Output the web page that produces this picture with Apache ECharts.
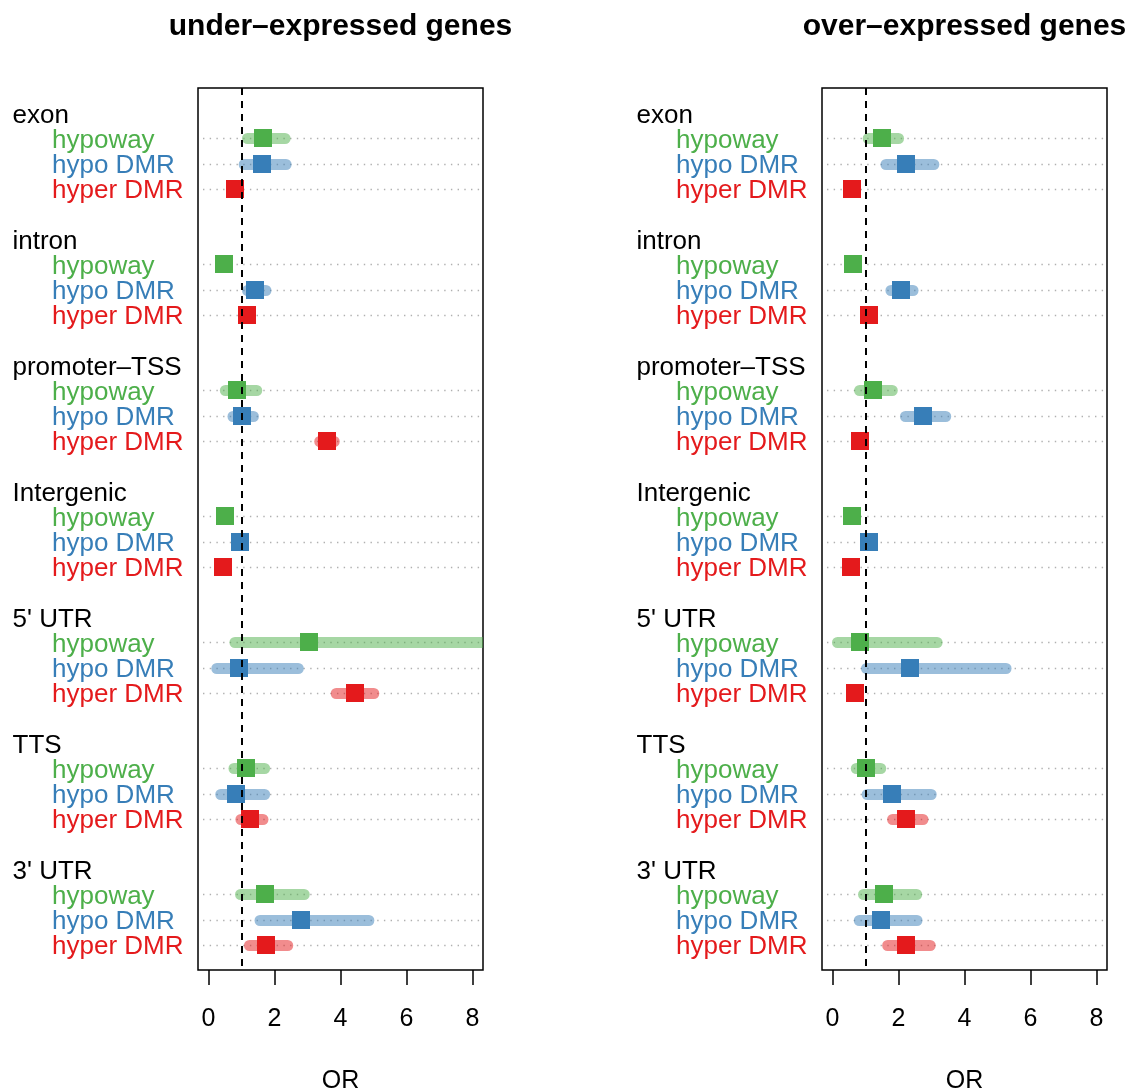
<!DOCTYPE html>
<html>
<head>
<meta charset="utf-8">
<script src="https://cdn.jsdelivr.net/npm/echarts@6/dist/echarts.min.js"></script>
<style>
  html, body { margin: 0; padding: 0; background: #fff; }
  #chart { width: 1132px; height: 1092px; }
</style>
</head>
<body>
<div id="chart"></div>
<script>
// Genomic regions (top to bottom) and the three methylation sources in each
const regions = ['exon', 'intron', 'promoter\u2013TSS', 'Intergenic', "5' UTR", 'TTS', "3' UTR"];
const sources = ['hypoway', 'hypo DMR', 'hyper DMR'];
const panelTitles = ['under\u2013expressed genes', 'over\u2013expressed genes'];
const xTicks = [0, 2, 4, 6, 8];
const refOR = 1;

// Under-expressed genes: odds ratio with lower / upper CI (rows: region, cols: source)
const underOR = [
  [1.66, 1.63, 0.81],
  [0.48, 1.42, 1.18],
  [0.87, 1.02, 3.58],
  [0.51, 0.96, 0.45],
  [3.03, 0.93, 4.43],
  [1.15, 0.84, 1.27],
  [1.72, 2.79, 1.75]
];
const underLo = [
  [1.18, 1.08, null],
  [null, 1.18, null],
  [0.51, 0.74, 3.37],
  [null, null, null],
  [0.80, 0.25, 3.87],
  [0.77, 0.37, 0.98],
  [0.97, 1.56, 1.24]
];
const underHi = [
  [2.32, 2.35, null],
  [null, 1.74, null],
  [1.46, 1.36, 3.81],
  [null, null, null],
  [9.60, 2.72, 5.01],
  [1.70, 1.70, 1.65],
  [2.90, 4.86, 2.40]
];

// Over-expressed genes
const overOR = [
  [1.50, 2.23, 0.59],
  [0.62, 2.08, 1.11],
  [1.23, 2.75, 0.83],
  [0.59, 1.11, 0.56],
  [0.83, 2.35, 0.68],
  [1.02, 1.81, 2.23],
  [1.56, 1.47, 2.23]
];
const overLo = [
  [1.08, 1.62, null],
  [null, 1.77, null],
  [0.82, 2.21, null],
  [null, null, null],
  [0.15, 1.03, null],
  [0.72, 1.05, 1.82],
  [0.94, 0.81, 1.67]
];
const overHi = [
  [2.00, 3.07, null],
  [null, 2.44, null],
  [1.81, 3.43, null],
  [null, null, null],
  [3.17, 5.26, null],
  [1.46, 2.99, 2.74],
  [2.55, 2.56, 2.96]
];

const FONT = '"Liberation Sans", Arial, Helvetica, sans-serif';
const pointColors = ['#4DAF4A', '#377EB8', '#E41A1C'];
const ciColors = ['rgba(77,175,74,0.5)', 'rgba(55,126,184,0.5)', 'rgba(228,26,28,0.5)'];
const X_MIN = -0.32, X_MAX = 8.32;
const ROWS = regions.length * 5;

// region header sits on slot 5g+1, its sources on 5g+2 .. 5g+4
function rowOf(g, s) { return 5 * g + 2 + s; }

function buildMarks(orArr, loArr, hiArr) {
  const out = [];
  regions.forEach(function (r, g) {
    sources.forEach(function (src, s) {
      const lo = loArr[g][s], hi = hiArr[g][s];
      out.push([orArr[g][s], rowOf(g, s), s, lo == null ? NaN : lo, hi == null ? NaN : hi]);
    });
  });
  return out;
}

const labelRows = [];
regions.forEach(function (r, g) {
  labelRows.push({ row: 5 * g + 1, text: r, color: '#000', offset: 185.5 });
  sources.forEach(function (src, s) {
    labelRows.push({ row: rowOf(g, s), text: src, color: pointColors[s], offset: 146 });
  });
});

function renderMark(params, api) {
  const cs = params.coordSys;
  const row = api.value(1), s = api.value(2);
  const lo = api.value(3), hi = api.value(4);
  const y = Math.round(api.coord([0, row])[1]) + 0.5;
  const children = [{
    type: 'line',
    shape: { x1: cs.x + 5, y1: y, x2: cs.x + cs.width, y2: y },
    style: { stroke: '#b0b0b0', lineWidth: 1.4, lineDash: [1.4, 5.3] }
  }];
  if (isFinite(lo) && isFinite(hi)) {
    const a = api.coord([lo, row]), b = api.coord([hi, row]);
    children.push({
      type: 'line',
      shape: { x1: a[0], y1: y, x2: b[0], y2: y },
      style: { stroke: ciColors[s], lineWidth: 11, lineCap: 'round' }
    });
  }
  const c = api.coord([api.value(0), row]);
  children.push({
    type: 'rect',
    shape: { x: Math.round(c[0] - 9), y: Math.round(y - 9.5), width: 18, height: 18 },
    style: { fill: pointColors[s] }
  });
  return { type: 'group', children: children };
}

function renderLabel(params, api) {
  const item = labelRows[params.dataIndex];
  const y = api.coord([0, item.row])[1] + 2.5;
  return {
    type: 'text',
    x: params.coordSys.x - item.offset,
    y: y,
    style: {
      text: item.text, fill: item.color,
      fontSize: 26, fontFamily: FONT,
      align: 'left', verticalAlign: 'middle'
    }
  };
}

function renderRef(params, api) {
  const cs = params.coordSys;
  const x = Math.round(api.coord([api.value(0), 0])[0]);
  return {
    type: 'line',
    shape: { x1: x, y1: cs.y, x2: x, y2: cs.y + cs.height },
    style: { stroke: '#000', lineWidth: 2, lineDash: [7, 6] }
  };
}

const panels = [
  { left: 198, title: panelTitles[0], data: buildMarks(underOR, underLo, underHi) },
  { left: 822, title: panelTitles[1], data: buildMarks(overOR, overLo, overHi) }
];
const PANEL_W = 285;

const option = {
  backgroundColor: '#fff',
  animation: false,
  grid: panels.map(function (p) {
    return {
      left: p.left, width: PANEL_W, top: 88, height: 882,
      show: true, borderColor: '#000', borderWidth: 1.5,
      backgroundColor: 'transparent',
      containLabel: false, outerBoundsMode: 'none'
    };
  }),
  xAxis: panels.map(function (p, i) {
    return {
      gridIndex: i, type: 'value', min: X_MIN, max: X_MAX, position: 'bottom',
      axisLine: { show: false, onZero: false },
      splitLine: { show: false },
      axisTick: { show: true, length: 15, customValues: xTicks, lineStyle: { color: '#000', width: 1.5 } },
      axisLabel: { customValues: xTicks, margin: 37, fontSize: 25, color: '#000', fontFamily: FONT },
      name: 'OR', nameLocation: 'middle', nameGap: 99,
      nameTextStyle: { fontSize: 25, color: '#000', fontFamily: FONT }
    };
  }),
  yAxis: panels.map(function (p, i) {
    return {
      gridIndex: i, type: 'value', min: 0, max: ROWS, inverse: true, show: false,
      splitLine: { show: false }
    };
  }),
  graphic: panels.map(function (p) {
    return {
      type: 'text', x: p.left + PANEL_W / 2, y: 27,
      style: {
        text: p.title, fill: '#000', fontSize: 30, fontWeight: 'bold', fontFamily: FONT,
        align: 'center', verticalAlign: 'middle'
      }
    };
  }),
  series: []
};

panels.forEach(function (p, i) {
  option.series.push({
    type: 'custom', xAxisIndex: i, yAxisIndex: i, clip: true, z: 2,
    encode: { x: 0, y: 1 },
    renderItem: renderMark, data: p.data
  });
  option.series.push({
    type: 'custom', xAxisIndex: i, yAxisIndex: i, clip: false, z: 3,
    encode: { x: 0, y: 1 },
    renderItem: renderLabel,
    data: labelRows.map(function (l) { return [0, l.row]; })
  });
  option.series.push({
    type: 'custom', xAxisIndex: i, yAxisIndex: i, clip: false, z: 4,
    encode: { x: 0, y: 1 },
    renderItem: renderRef, data: [[refOR, 0]]
  });
});

const chart = echarts.init(document.getElementById('chart'), null, { renderer: 'canvas' });
chart.setOption(option);
</script>
</body>
</html>
